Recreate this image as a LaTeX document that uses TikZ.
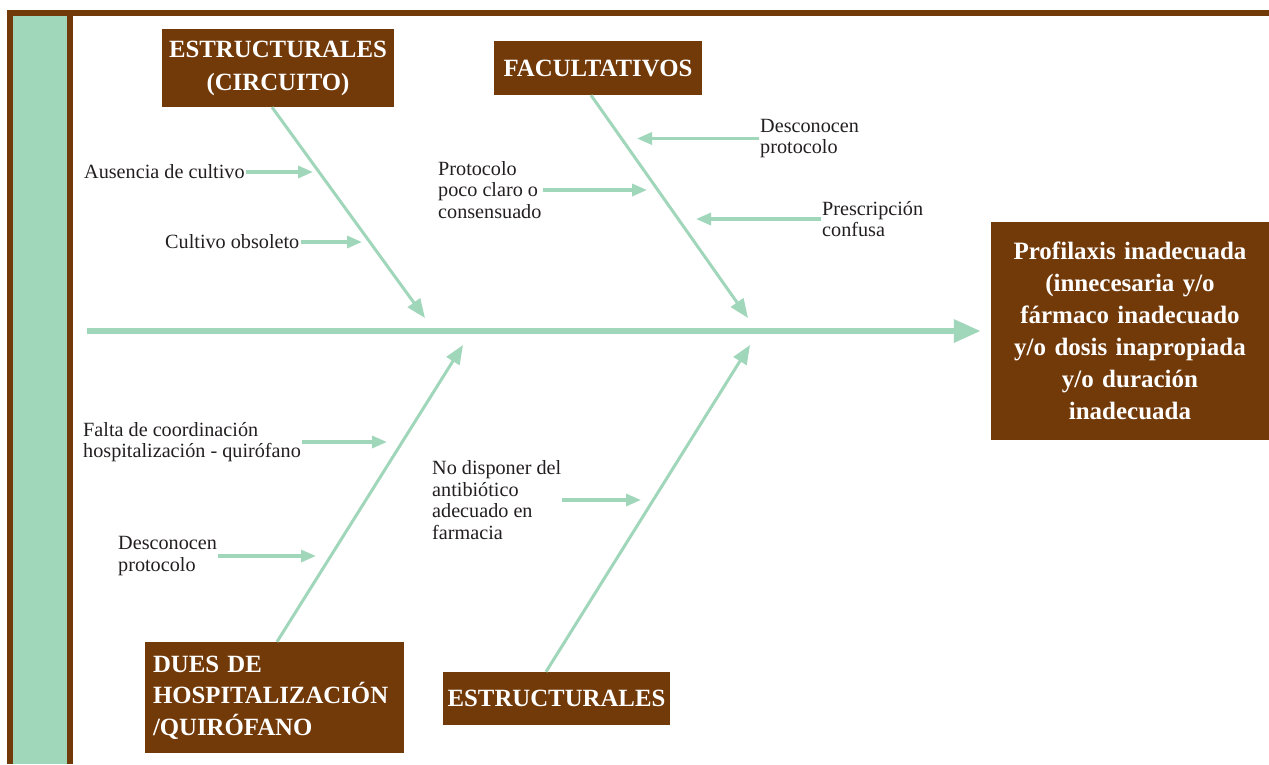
\documentclass[tikz,border=0pt]{standalone}
\usepackage{fontspec}
\setmainfont{Liberation Serif}
\usetikzlibrary{arrows.meta}
\definecolor{cafe}{RGB}{114,57,9}
\definecolor{verde}{RGB}{160,214,186}
\definecolor{texto}{RGB}{35,31,32}

\begin{document}
\begin{tikzpicture}[x=1pt, y=-1pt,
	causa/.style={fill=cafe, text=white, font=\bfseries\fontsize{24.8}{33}\selectfont, inner sep=0pt, align=center},
	sub/.style={text=texto, font=\fontsize{20.2}{21.7}\selectfont, inner sep=1pt, align=left},
	hueso/.style={draw=verde, line width=3pt, -{Triangle[length=19pt,width=15pt]}},
	flecha/.style={draw=verde, line width=3.2pt, -{Triangle[length=15pt,width=12pt]}},
	espina/.style={draw=verde, line width=6pt, -{Triangle[length=27pt,width=22pt]}}]
	\useasboundingbox (0,0) rectangle (1269,764);
	
	% marco
	\fill[cafe] (7,10) rectangle (1269,16);
	\fill[cafe] (7,10) rectangle (13,764);
	\fill[verde] (13,16) rectangle (67,764);
	\fill[cafe] (67,16) rectangle (73,764);
	
	% cajas
	\node[causa, minimum width=232pt, minimum height=78pt] (estrC) at (278,68) {ESTRUCTURALES\\(CIRCUITO)};
	\node[causa, minimum width=208pt, minimum height=54pt] (facu) at (598,68) {FACULTATIVOS};
	\node[causa, minimum width=259pt, minimum height=111pt, text width=243pt, align=left, font=\bfseries\fontsize{24.8}{31.5}\selectfont] (dues) at (274.5,697.5) {DUES DE\\HOSPITALIZACIÓN\\/QUIRÓFANO};
	\node[causa, minimum width=227pt, minimum height=53pt] (estr) at (556.5,698.5) {ESTRUCTURALES};
	\node[causa, minimum width=278pt, minimum height=218pt, text width=270pt, font=\bfseries\fontsize{25}{32}\selectfont] (efecto) at (1130,331) {Profilaxis inadecuada\\(innecesaria y/o\\fármaco inadecuado\\y/o dosis inapropiada\\y/o duración\\inadecuada};
	
	% espina
	\coordinate (cola) at (87,331);
	\draw[espina] (cola) -- ([xshift=-10pt]efecto.west);
	
	% huesos
	\coordinate (t1) at (425,318);
	\coordinate (t2) at (748,318);
	\coordinate (t3) at (463,345);
	\coordinate (t4) at (750,345);
	\draw[hueso] ([xshift=-6pt]estrC.south) -- (t1);
	\draw[hueso] ([xshift=-7pt]facu.south) -- (t2);
	\draw[hueso] ([xshift=2.5pt]dues.north) -- (t3);
	\draw[hueso] ([xshift=-10.5pt]estr.north) -- (t4);
	
	% subcausas
	\node[sub, anchor=west] (aus) at (83,172) {Ausencia de cultivo};
	\node[sub, anchor=west] (obs) at (164,242) {Cultivo obsoleto};
	\node[sub, anchor=west] (desF) at (759,138.5) {Desconocen\\protocolo};
	\node[sub, anchor=west] (proto) at (437,190) {Protocolo\\poco claro o\\consensuado};
	\node[sub, anchor=west] (presc) at (821,219) {Prescripción\\confusa};
	\node[sub, anchor=west] (falta) at (82,442) {Falta de coordinación\\hospitalización - quirófano};
	\node[sub, anchor=west] (desD) at (117,556) {Desconocen\\protocolo};
	\node[sub, anchor=west] (nodisp) at (431,500) {No disponer del\\antibiótico\\adecuado en\\farmacia};
	
	\coordinate (p1) at (313,172);
	\coordinate (p2) at (362,242);
	\coordinate (p3) at (637,138.5);
	\coordinate (p4) at (647,190);
	\coordinate (p5) at (696,219);
	\coordinate (p6) at (387,442);
	\coordinate (p7) at (316,556);
	\coordinate (p8) at (641,500);
	\draw[flecha] (aus) -- (p1);
	\draw[flecha] (obs) -- (p2);
	\draw[flecha] (desF) -- (p3);
	\draw[flecha] (proto) -- (p4);
	\draw[flecha] (presc) -- (p5);
	\draw[flecha] (falta) -- (p6);
	\draw[flecha] (desD) -- (p7);
	\draw[flecha] (nodisp) -- (p8);
\end{tikzpicture}
\end{document}
